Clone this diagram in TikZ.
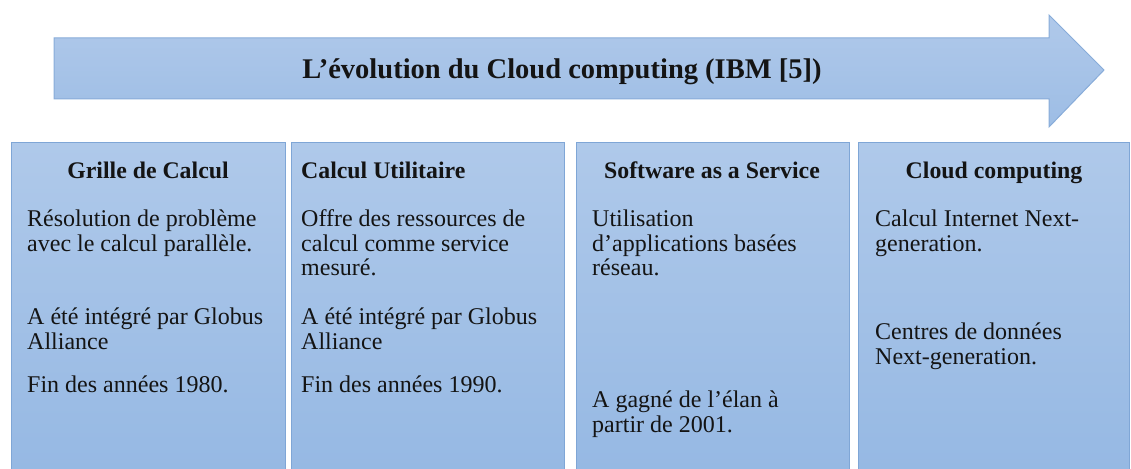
\documentclass[tikz,border=0pt]{standalone}
\usepackage{fontspec}
\setmainfont{Liberation Serif}
\definecolor{paneltop}{HTML}{AFC9EA}
\definecolor{panelbot}{HTML}{95B8E3}
\definecolor{panelline}{HTML}{7FA6D6}
\definecolor{arrowtop}{HTML}{B0C9EA}
\definecolor{arrowbot}{HTML}{9DBDE5}
\definecolor{arrowline}{HTML}{88ACD9}
\definecolor{ink}{HTML}{141414}
\begin{document}
\begin{tikzpicture}[x=1pt,y=-1pt,
  panel/.style={draw=panelline, line width=1.2pt, top color=paneltop, bottom color=panelbot,
    anchor=north west, minimum height=340pt, inner sep=0pt},
  body/.style={anchor=base west, inner sep=0pt, text=ink, font=\fontsize{24}{26}\selectfont},
  headc/.style={anchor=base, inner sep=0pt, text=ink, font=\fontsize{23.8}{26}\selectfont\bfseries},
  headl/.style={headc, anchor=base west},
  titletext/.style={anchor=base, inner sep=0pt, text=ink, font=\fontsize{28.5}{31}\selectfont\bfseries}]
\useasboundingbox (0,0) rectangle (1131,468);
\clip (0,0) rectangle (1131,468);

% timeline arrow
\draw[draw=arrowline, line width=1pt, top color=arrowtop, bottom color=arrowbot]
  (54,38) -- (1049,38) -- (1049,15) -- (1104,70) -- (1049,127) -- (1049,99) -- (54,99) -- cycle;
\node[titletext] (title) at (562,79) {L’évolution du Cloud computing (IBM [5])};

% four stage panels
\node[panel, minimum width=274pt] (p1) at (11,142) {};
\node[panel, minimum width=273pt] (p2) at (291,142) {};
\node[panel, minimum width=273pt] (p3) at (576,142) {};
\node[panel, minimum width=271pt] (p4) at (858,142) {};

% Grille de Calcul
\node[headc] (h1) at (148,178) {Grille de Calcul};
\node[body] (a1) at (27,226) {Résolution de problème};
\node[body] (a2) at (27,251) {avec le calcul parallèle.};
\node[body] (a3) at (27,324) {A été intégré par Globus};
\node[body] (a4) at (27,349) {Alliance};
\node[body] (a5) at (27,392) {Fin des années 1980.};

% Calcul Utilitaire
\node[headl] (h2) at (301,178) {Calcul Utilitaire};
\node[body] (b1) at (301,226) {Offre des ressources de};
\node[body] (b2) at (301,251) {calcul comme service};
\node[body] (b3) at (301,275) {mesuré.};
\node[body] (b4) at (301,324) {A été intégré par Globus};
\node[body] (b5) at (301,349) {Alliance};
\node[body] (b6) at (301,392) {Fin des années 1990.};

% Software as a Service
\node[headc] (h3) at (712,178) {Software as a Service};
\node[body] (c1) at (592,226) {Utilisation};
\node[body] (c2) at (592,251) {d’applications basées};
\node[body] (c3) at (592,275) {réseau.};
\node[body] (c4) at (592,407) {A gagné de l’élan à};
\node[body] (c5) at (592,432) {partir de 2001.};

% Cloud computing
\node[headc] (h4) at (994,178) {Cloud computing};
\node[body] (d1) at (875,226) {Calcul Internet Next-};
\node[body] (d2) at (875,251) {generation.};
\node[body] (d3) at (875,339) {Centres de données};
\node[body] (d4) at (875,364) {Next-generation.};
\end{tikzpicture}
\end{document}
